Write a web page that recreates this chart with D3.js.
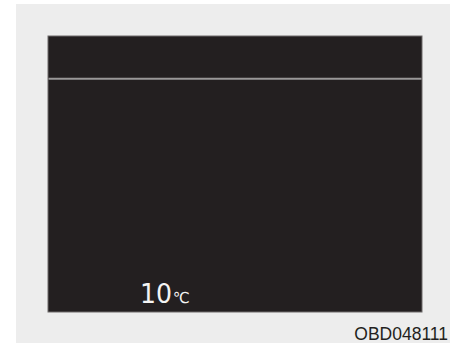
<!DOCTYPE html>
<html>
<head>
<meta charset="utf-8">
<script src="https://cdn.jsdelivr.net/npm/d3@7"></script>
<style>
  html, body { margin: 0; padding: 0; background: #fff; }
  svg { display: block; }
</style>
</head>
<body>
<svg width="450" height="343"></svg>
<script>
// display contents
var tempValues = [10];
var tempUnits = ["\u2103"];
var codeLabels = ["OBD048111"];
var dividerRows = [0.155];   // fraction of panel height where the header line sits

var loadVis = function() {
    var svg = d3.select("svg"),
        width = +svg.attr("width"),
        height = +svg.attr("height");

    // page background
    svg.append("rect")
        .attr("x", 16).attr("y", 4)
        .attr("width", width - 16).attr("height", height - 4)
        .attr("fill", "#ededed");

    // screen panel
    var panel = { x: 48, y: 36, w: 374, h: 276 };

    var y = d3.scaleLinear()
        .domain([0, 1])
        .range([panel.y, panel.y + panel.h]);

    svg.append("rect")
        .attr("x", panel.x).attr("y", panel.y)
        .attr("width", panel.w).attr("height", panel.h)
        .attr("fill", "#231f20")
        .attr("stroke", "#6e6b6b")
        .attr("stroke-width", 1);

    svg.append("g")
        .selectAll("line")
        .data(dividerRows)
        .enter().append("line")
            .attr("x1", panel.x + 0.5)
            .attr("x2", panel.x + panel.w - 0.5)
            .attr("y1", function(d) { return y(d); })
            .attr("y2", function(d) { return y(d); })
            .attr("stroke", "#9a9898")
            .attr("stroke-width", 2);

    // temperature readout
    var temp = svg.append("g")
        .selectAll("text")
        .data(tempValues)
        .enter().append("text")
            .attr("x", 140)
            .attr("y", 303)
            .attr("fill", "#f4f4f4")
            .style("font-family", "'DejaVu Sans', sans-serif")
            .style("font-size", "27px");

    temp.append("tspan")
        .attr("textLength", 32)
        .attr("lengthAdjust", "spacingAndGlyphs")
        .text(function(d) { return d; });

    temp.append("tspan")
        .attr("dx", 1)
        .style("font-size", "15px")
        .text(function(d, i) { return tempUnits[i]; });

    // figure code
    svg.append("g")
        .selectAll("text")
        .data(codeLabels)
        .enter().append("text")
            .attr("x", 448)
            .attr("y", 340)
            .attr("text-anchor", "end")
            .attr("fill", "#231f20")
            .style("font-family", "'Liberation Sans', Arial, sans-serif")
            .style("font-size", "17.5px")
            .text(function(d) { return d; });
}

document.addEventListener('DOMContentLoaded', loadVis, false);
</script>
</body>
</html>
